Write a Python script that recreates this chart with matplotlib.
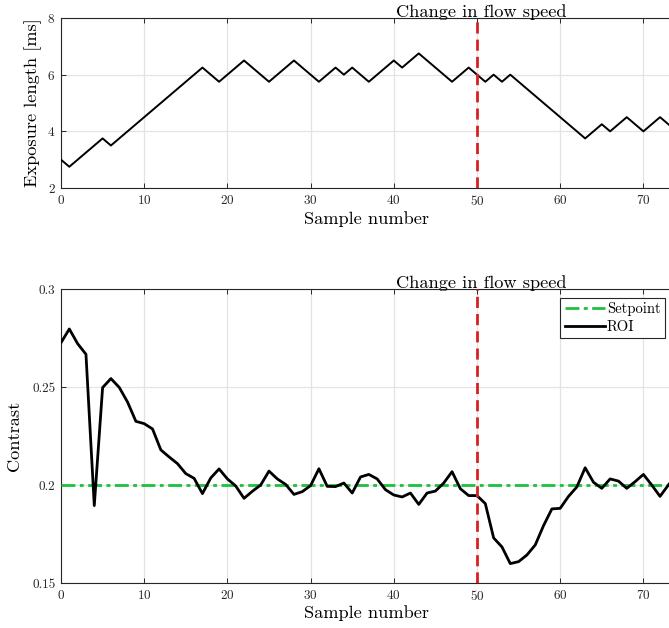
import matplotlib
matplotlib.use("Agg")
import matplotlib.pyplot as plt
import numpy as np

plt.rcParams['font.family'] = 'serif'
plt.rcParams['font.serif'] = ['cmr10', 'DejaVu Serif']
plt.rcParams['mathtext.fontset'] = 'cm'
plt.rcParams['axes.formatter.use_mathtext'] = True

# ---- data ----
exp_x = [0, 1, 5, 6, 17, 19, 22, 25, 28, 31, 33, 34, 35, 37, 40, 41, 43, 47, 49,
         51, 52, 53, 54, 63, 65, 66, 68, 70, 72, 74]
exp_y = [3.0, 2.75, 3.75, 3.5, 6.25, 5.75, 6.5, 5.75, 6.5, 5.75, 6.25, 6.0, 6.25,
         5.75, 6.5, 6.25, 6.75, 5.75, 6.25, 5.75, 6.0, 5.75, 6.0, 3.75, 4.25, 4.0,
         4.5, 4.0, 4.5, 4.0]

contrast = [0.2726, 0.2796, 0.2721, 0.2667, 0.1895, 0.2497, 0.2543, 0.2498, 0.2423,
            0.2325, 0.2313, 0.2286, 0.2179, 0.2143, 0.2109, 0.2058, 0.2034, 0.1956,
            0.2036, 0.2082, 0.2031, 0.1995, 0.1932, 0.1968, 0.2000, 0.2071, 0.2031,
            0.2003, 0.1952, 0.1966, 0.1997, 0.2083, 0.1993, 0.1992, 0.2010, 0.1959,
            0.2041, 0.2054, 0.2031, 0.1976, 0.1949, 0.1939, 0.1959, 0.1901, 0.1959,
            0.1969, 0.2010, 0.2068, 0.1981, 0.1946, 0.1946, 0.1905, 0.1730, 0.1684,
            0.1599, 0.1609, 0.1643, 0.1694, 0.1793, 0.1878, 0.1881, 0.1942, 0.1990,
            0.2088, 0.2014, 0.1983, 0.2031, 0.2020, 0.1983, 0.2017, 0.2054, 0.2000,
            0.1942, 0.2000, 0.2050]
samples = np.arange(len(contrast))
setpoint = 0.2
change_x = 50
title_text = "Change in flow speed"
x_ticks = [0, 10, 20, 30, 40, 50, 60, 70]

W, H = 669, 628
fig = plt.figure(figsize=(W / 100, H / 100), dpi=100)

ax_w = 832 / W
ax1 = fig.add_axes([61 / W, 1 - 188 / H, ax_w, 170 / H])
ax2 = fig.add_axes([61 / W, 1 - 583 / H, ax_w, 294 / H])

spine_c = '#262626'
grid_c = '#e3e3e3'
fs = 13.2

for ax in (ax1, ax2):
    ax.set_xlim(0, 100)
    ax.grid(True, color=grid_c, linewidth=0.9)
    ax.set_axisbelow(True)
    for s in ax.spines.values():
        s.set_color(spine_c)
        s.set_linewidth(0.8)
    ax.tick_params(direction='in', length=3.8, width=0.7, color=spine_c,
                   labelcolor=spine_c, labelsize=9.5, top=True, right=True, pad=4)
    ax.set_xticks(x_ticks)

# top
ax1.plot(exp_x, exp_y, color='black', linewidth=1.4, zorder=3)
ax1.axvline(change_x, color='#d42222', linestyle=(0, (4, 2.2)), linewidth=2.0, zorder=4)
ax1.set_ylim(2, 8)
ax1.set_yticks([2, 4, 6, 8])
ax1.set_ylabel('Exposure length [ms]', fontsize=fs)
ax1.yaxis.set_label_coords(-0.023, 0.5)
ax1.set_xlabel('Sample number', fontsize=fs)
ax1.xaxis.set_label_coords((367 - 61) / 832, -0.135)
ax1.set_title(title_text, fontsize=fs, pad=1, x=0.505)

# bottom
ax2.axhline(setpoint, color='#1fbf3f', linestyle=(0, (5, 1.6, 1.4, 1.6)),
            linewidth=2.0, label='Setpoint', zorder=3)
ax2.plot(samples, contrast, color='black', linewidth=2.0, label='ROI', zorder=4)
ax2.axvline(change_x, color='#d42222', linestyle=(0, (4, 2.2)), linewidth=2.0, zorder=5)
ax2.set_ylim(0.15, 0.3)
ax2.set_yticks([0.15, 0.2, 0.25, 0.3])
ax2.set_yticklabels(['0.15', '0.2', '0.25', '0.3'])
ax2.set_ylabel('Contrast', fontsize=fs)
ax2.yaxis.set_label_coords(-0.047, 0.5)
ax2.set_xlabel('Sample number', fontsize=fs)
ax2.xaxis.set_label_coords((367 - 61) / 832, -0.075)
ax2.set_title(title_text, fontsize=fs, pad=1, x=0.505)

leg = ax2.legend(loc='upper right', bbox_to_anchor=(665 / W, 1 - 298 / H),
                 bbox_transform=fig.transFigure, fontsize=10.5, frameon=True,
                 fancybox=False, edgecolor=spine_c, framealpha=1,
                 handlelength=2.75, handletextpad=0.15, borderpad=0.3,
                 labelspacing=0.25, borderaxespad=0)
leg.get_frame().set_linewidth(0.8)

fig.savefig('out.png', dpi=100)
